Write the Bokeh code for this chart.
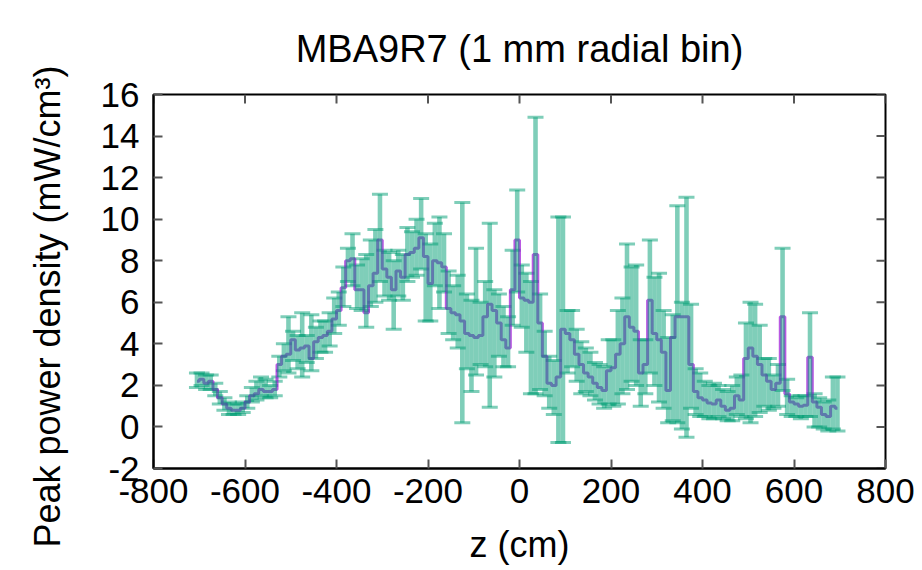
from bokeh.plotting import figure
from bokeh.models import ColumnDataSource, Whisker, TeeHead, Range1d, FixedTicker
from bokeh.embed import file_html
from bokeh.resources import INLINE

# ---- data ----
z_cm = [-705, -695, -685, -675, -665, -655, -645, -635, -625, -615,
        -605, -595, -585, -575, -565, -555, -545, -535, -525, -515,
        -505, -495, -485, -475, -465, -455, -445, -435, -425, -415,
        -405, -395, -385, -375, -365, -355, -345, -335, -325, -315,
        -305, -295, -285, -275, -265, -255, -245, -235, -225, -215,
        -205, -195, -185, -175, -165, -155, -145, -135, -125, -115,
        -105, -95, -85, -75, -65, -55, -45, -35, -25, -15,
        -5, 5, 15, 25, 35, 45, 55, 65, 75, 85,
        95, 105, 115, 125, 135, 145, 155, 165, 175, 185,
        195, 205, 215, 225, 235, 245, 255, 265, 275, 285,
        295, 305, 315, 325, 335, 345, 355, 365, 375, 385,
        395, 405, 415, 425, 435, 445, 455, 465, 475, 485,
        495, 505, 515, 525, 535, 545, 555, 565, 575, 585,
        595, 605, 615, 625, 635, 645, 655, 665, 675, 685,
        695]

density = [2.2, 2.3, 2.1, 2.2, 1.8, 1.4, 1.1, 0.9, 0.8, 0.8,
           0.9, 1.2, 1.5, 1.6, 1.8, 1.7, 1.7, 1.8, 3.0, 3.4,
           3.5, 4.2, 3.7, 3.8, 3.9, 3.3, 4.1, 4.3, 4.4, 4.6,
           5.2, 5.6, 6.7, 8.0, 8.1, 6.6, 6.6, 5.5, 6.8, 7.4,
           9.0, 7.6, 7.2, 6.6, 7.5, 7.2, 8.3, 8.4, 8.6, 9.1,
           8.2, 6.9, 8.0, 7.9, 7.7, 5.7, 5.5, 5.4, 5.1, 4.5,
           4.4, 4.3, 4.4, 5.3, 5.9, 5.6, 5.0, 4.2, 3.8, 6.6,
           9.0, 6.2, 6.1, 6.0, 8.3, 5.0, 3.4, 2.1, 2.0, 2.4,
           4.7, 4.5, 4.2, 3.5, 3.0, 2.6, 2.4, 2.1, 1.9, 1.75,
           2.7, 2.85, 3.5, 4.0, 5.3, 4.8, 4.6, 2.6, 3.0, 6.1,
           4.5, 4.2, 3.6, 1.75, 4.3, 5.3, 5.3, 5.3, 3.0, 1.7,
           1.4, 1.3, 1.15, 1.1, 1.3, 1.0, 0.8, 0.9, 1.5, 1.3,
           3.3, 3.8, 3.4, 3.0, 2.5, 2.2, 1.8, 2.1, 5.3, 1.6,
           1.2, 1.1, 1.0, 1.05, 3.35, 1.2, 0.95, 0.6, 0.5, 1.0,
           0.9]

err_low = [1.9, 2.0, 1.8, 1.8, 1.5, 1.1, 0.8, 0.6, 0.6, 0.6,
           0.7, 0.9, 1.2, 1.3, 1.5, 1.4, 1.4, 1.5, 2.4, 2.7,
           2.6, 3.2, 2.8, 2.4, 3.1, 2.7, 3.3, 3.6, 3.6, 3.9,
           4.5, 4.9, 5.8, 7.0, 6.8, 5.7, 5.6, 4.8, 5.8, 6.0,
           7.0, 6.3, 6.1, 4.7, 6.3, 6.1, 7.0, 7.2, 7.3, 7.6,
           5.1, 5.1, 6.8, 5.7, 6.5, 4.5, 4.2, 3.8, 0.2, 2.8,
           1.7, 2.5, 3.0, 2.9, 0.95, 2.4, 3.4, 2.9, 2.9, 4.9,
           6.5, 4.8, 3.6, 1.6, 1.6, 1.8, 1.5, 0.9, 0.6, -0.75,
           -0.75, 2.6, 2.9, 2.2, 1.6, 1.7, 1.5, 1.3, 1.1, 0.9,
           1.1, 1.0, 1.1, 1.6, 1.8, 2.2, 2.0, 1.0, 1.6, 2.6,
           2.0, 1.2, 0.9, 0.2, 0.3, 0.2, -0.1, -0.5, 0.9, 0.6,
           0.5, 0.5, 0.4, 0.4, 0.5, 0.4, 0.3, 0.3, 0.6, 0.5,
           0.4, 0.2, 0.5, 0.7, 1.0, 0.8, 0.9, 1.0, 1.75, 0.6,
           0.5, 0.5, 0.4, 0.5, 0.5, 0.0, 0.0, -0.1, -0.2, -0.1,
           -0.2]

err_high = [2.6, 2.6, 2.5, 2.5, 2.1, 1.7, 1.4, 1.2, 1.1, 1.1,
            1.2, 1.5, 1.9, 2.2, 2.4, 2.3, 2.0, 2.2, 3.4, 4.0,
            5.3, 4.6, 4.4, 5.5, 4.4, 5.4, 4.8, 5.1, 5.1, 5.5,
            6.2, 6.5, 7.7, 8.6, 9.3, 7.8, 8.1, 8.3, 9.0, 9.5,
            11.2, 8.5, 8.4, 8.0, 8.5, 8.3, 9.6, 9.4, 10.0, 11.0,
            9.3, 8.8, 9.8, 10.1, 9.3, 7.5, 6.8, 7.3, 10.8, 6.4,
            6.1, 8.6, 6.0, 7.0, 9.8, 6.6, 6.4, 5.8, 5.3, 8.5,
            11.4, 7.8, 7.4, 7.0, 14.9, 6.4, 4.6, 3.4, 3.2, 10.1,
            10.1, 5.6, 5.6, 4.7, 4.1, 3.8, 3.6, 3.1, 3.0, 2.9,
            4.2, 4.2, 5.6, 6.2, 8.8, 7.7, 7.8, 4.2, 4.2, 9.0,
            7.2, 7.4, 5.6, 4.3, 5.4, 10.65, 6.0, 11.05, 5.9, 2.8,
            2.6, 2.2, 2.0, 2.1, 2.0, 1.8, 1.7, 2.0, 2.4, 2.5,
            5.0, 6.0, 5.9, 4.9, 3.3, 3.3, 2.5, 3.0, 8.6, 2.3,
            1.5, 1.4, 1.5, 1.5, 5.5, 1.6, 1.4, 1.2, 1.3, 2.4,
            2.4]

x_ticks = [-800, -600, -400, -200, 0, 200, 400, 600, 800]
y_ticks = [-2, 0, 2, 4, 6, 8, 10, 12, 14, 16]

title_text = "MBA9R7 (1 mm radial bin)"
x_label = "z (cm)"
y_label = "Peak power density (mW/cm\u00b3)"

# ---- styles ----
FONT = "Liberation Sans"
PURPLE = "#9400d3"
GREEN = "#009e73"
TICK_COLOR = "#555555"
TICK_PX = 9
BIN_W = 10          # bin width (cm), used as bar width
X0, X1, Y0, Y1 = -800, 800, -2, 16
FRAME_W, FRAME_H = 732, 374
YLABEL_PAD = "\u00a0" * 5   # nudges the rotated label's visible text downward

src = ColumnDataSource(dict(z=z_cm, v=density, lo=err_low, hi=err_high))

p = figure(width=922, height=570,
           x_range=Range1d(X0, X1), y_range=Range1d(Y0, Y1),
           output_backend="svg", toolbar_location=None,
           min_border_left=153, min_border_right=37,
           min_border_top=94, min_border_bottom=102,
           title=title_text)

p.background_fill_color = "white"
p.border_fill_color = "white"
p.outline_line_color = "black"
p.outline_line_width = 2
p.grid.visible = False

p.title.align = "center"
p.title.text_font = FONT
p.title.text_font_size = "38px"
p.title.text_font_style = "normal"
p.title.text_color = "black"
p.title.standoff = 49

def style_axis(ax, ticks):
    ax.ticker = FixedTicker(ticks=ticks)
    ax.major_label_overrides = {t: str(t) for t in ticks}
    ax.major_tick_in = TICK_PX
    ax.major_tick_out = 0
    ax.minor_tick_line_color = None
    ax.major_tick_line_color = TICK_COLOR
    ax.major_tick_line_width = 2
    ax.axis_line_color = "black"
    ax.axis_line_width = 2
    ax.major_label_text_font = FONT
    ax.major_label_text_color = "black"
    ax.major_label_text_font_size = "35px"
    ax.axis_label_text_font = FONT
    ax.axis_label_text_font_size = "36px"
    ax.axis_label_text_font_style = "normal"
    ax.axis_label_text_color = "black"

style_axis(p.xaxis[0], x_ticks)
style_axis(p.yaxis[0], y_ticks)
p.xaxis[0].axis_label = x_label
p.xaxis[0].major_label_standoff = 10
p.xaxis[0].axis_label_standoff = 18
p.yaxis[0].axis_label = y_label + YLABEL_PAD
p.yaxis[0].major_label_standoff = 14
p.yaxis[0].axis_label_standoff = 30

# mirrored ticks on top and right edges (gnuplot style)
dy = TICK_PX * (Y1 - Y0) / FRAME_H
dx = TICK_PX * (X1 - X0) / FRAME_W
p.segment(x0=x_ticks, y0=[Y1] * len(x_ticks), x1=x_ticks, y1=[Y1 - dy] * len(x_ticks),
          line_color=TICK_COLOR, line_width=2)
p.segment(x0=[X1] * len(y_ticks), y0=y_ticks, x1=[X1 - dx] * len(y_ticks), y1=y_ticks,
          line_color=TICK_COLOR, line_width=2)

# step line (drawn first, under the error bars)
p.step(x="z", y="v", source=src, mode="center",
       line_color=PURPLE, line_alpha=0.65, line_width=3)

# error bars: translucent bar bodies + caps
p.vbar(x="z", width=BIN_W, bottom="lo", top="hi", source=src,
       fill_color=GREEN, fill_alpha=0.5, line_color=None)
head_kw = dict(size=16, line_color=GREEN, line_alpha=0.5, line_width=3)
w = Whisker(base="z", lower="lo", upper="hi", source=src, dimension="height",
            line_color=None,
            upper_head=TeeHead(**head_kw), lower_head=TeeHead(**head_kw))
p.add_layout(w)

open("out.html", "w").write(file_html(p, INLINE))
